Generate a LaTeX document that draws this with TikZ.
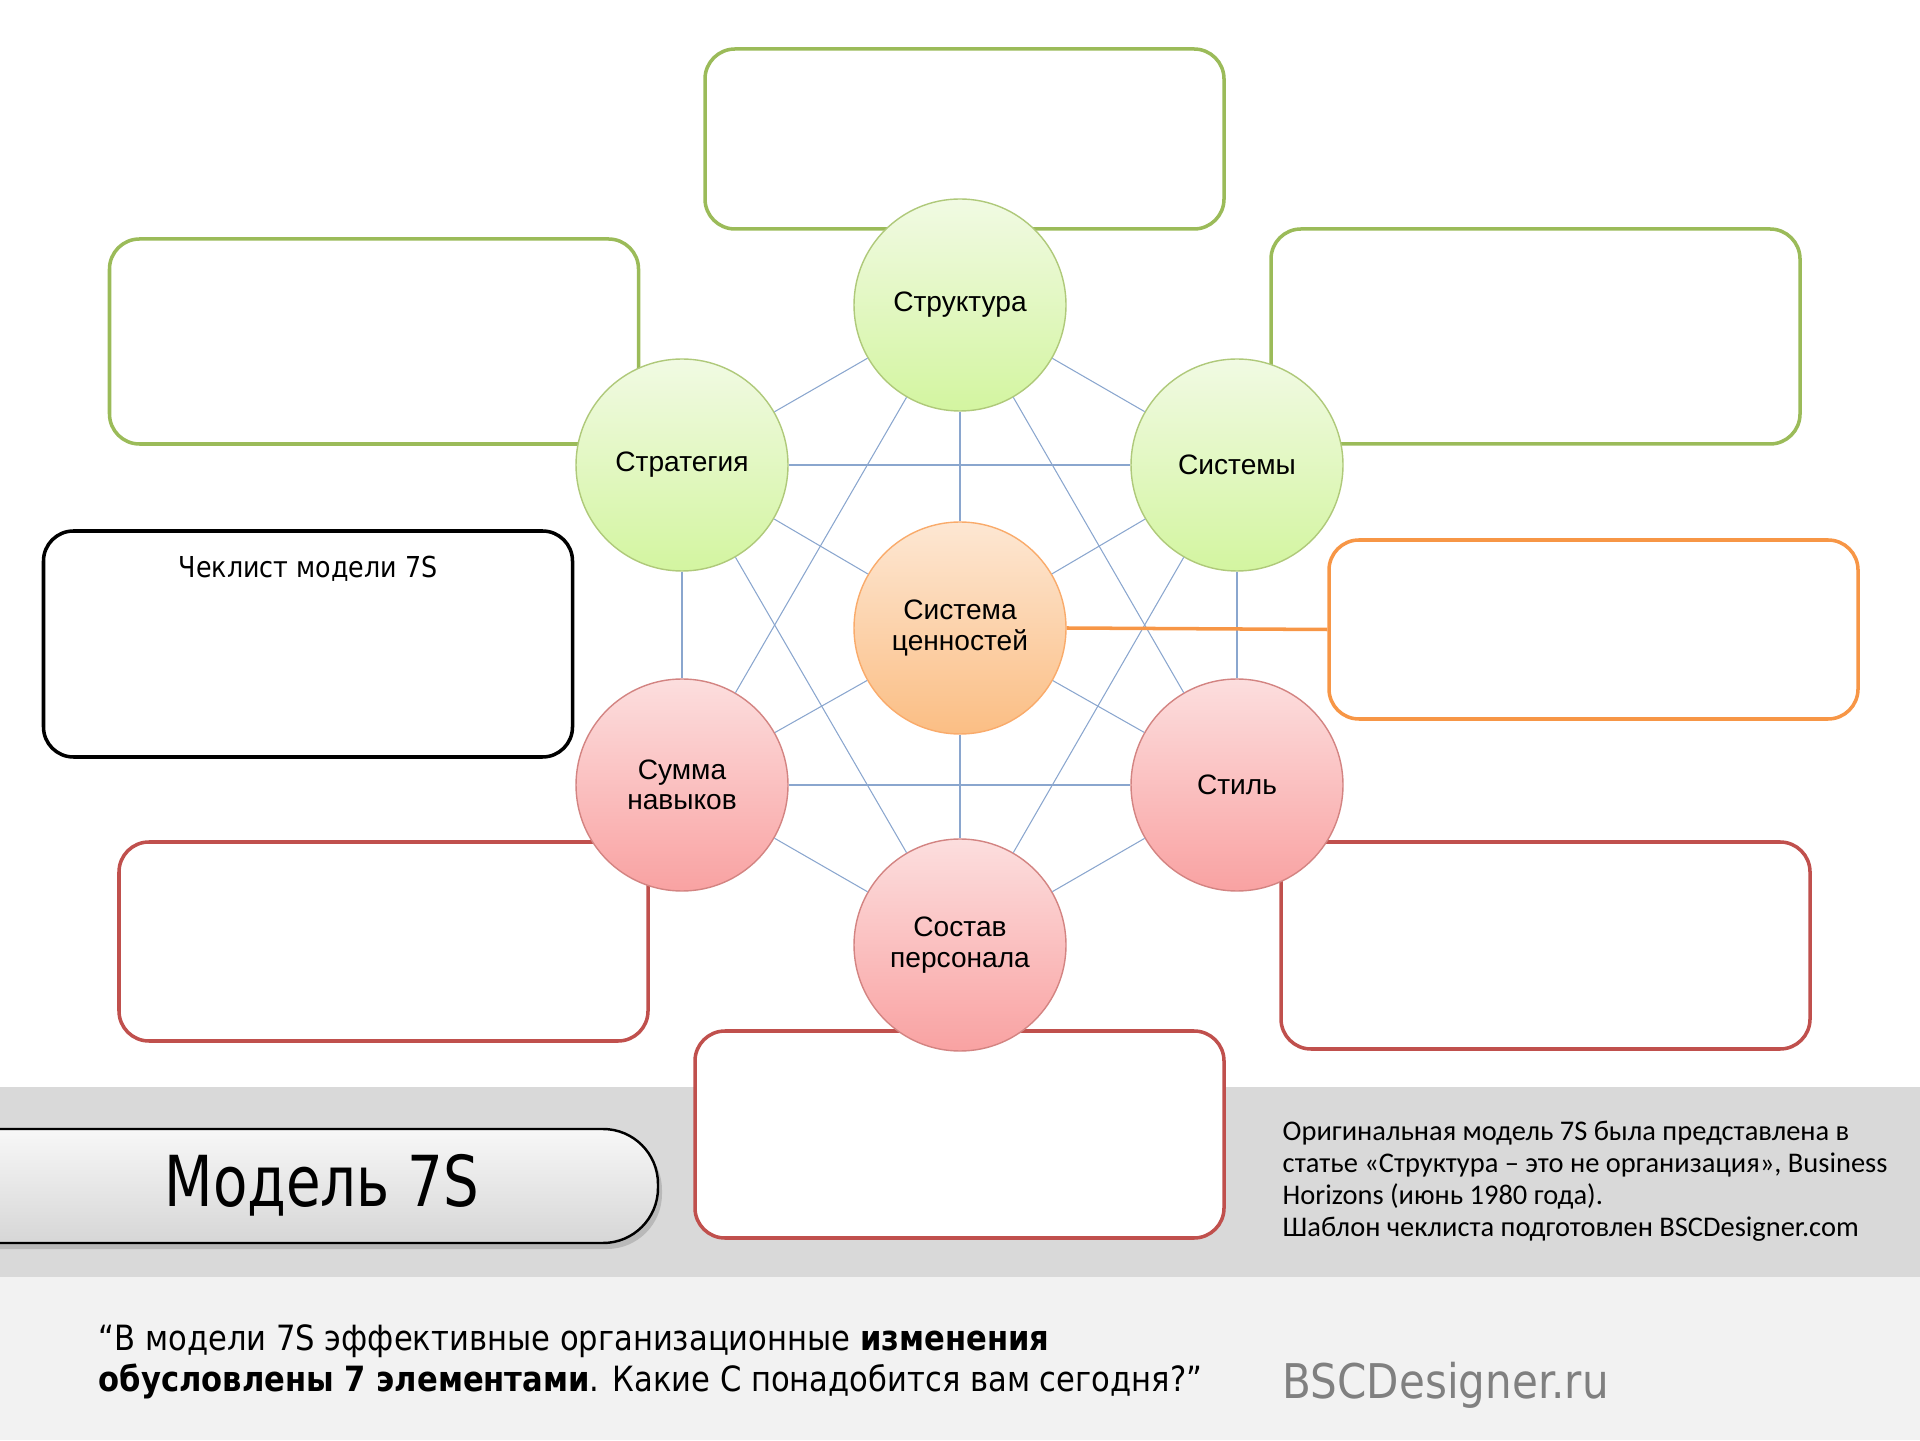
\documentclass[tikz,border=0pt]{standalone}
\usepackage{fontspec}
\setmainfont{Liberation Sans}
\newfontfamily\tahoma[FakeStretch=0.88]{DejaVu Sans}
\newfontfamily\tahomaschmal[FakeStretch=0.8]{DejaVu Sans}
\newfontfamily\calib{Carlito}
\usetikzlibrary{shadows}
\definecolor{gruen}{HTML}{9BBB59}
\definecolor{gruenl}{HTML}{F1FAE3}
\definecolor{gruend}{HTML}{D3F5A0}
\definecolor{rot}{HTML}{C0504D}
\definecolor{rotl}{HTML}{FCDEDE}
\definecolor{rotd}{HTML}{F9A2A2}
\definecolor{orng}{HTML}{F79646}
\definecolor{orngl}{HTML}{FDE7D3}
\definecolor{orngd}{HTML}{FBBE84}
\definecolor{linie}{HTML}{8AA6CE}
\definecolor{band}{HTML}{D9D9D9}
\definecolor{fuss}{HTML}{F2F2F2}
\definecolor{schrift}{HTML}{808080}
\tikzset{
  kreis/.style={circle,minimum size=2.12cm,inner sep=0pt,align=center,line width=0.4pt,font=\fontsize{8}{8.6}\selectfont},
  kreisg/.style={kreis,draw=gruen!80,top color=gruenl,bottom color=gruend},
  kreiso/.style={kreis,draw=orng!80,top color=orngl,bottom color=orngd},
  kreisr/.style={kreis,draw=rot!70,top color=rotl,bottom color=rotd},
  kasten/.style={rectangle,rounded corners=0.3cm,fill=white,line width=1pt,inner sep=0pt,minimum width=5.29cm},
  verb/.style={linie,line width=0.3pt},
  titelband/.style={draw=black,line width=0.7pt,top color=gray!6,bottom color=gray!32,rounded corners=0.55cm,
    drop shadow={opacity=0.35,shadow xshift=0.04cm,shadow yshift=-0.06cm}},
}
\begin{document}
\begin{tikzpicture}
  \useasboundingbox (0,0) rectangle (19.2,14.4);
  \fill[band] (0,1.63) rectangle (19.2,3.53);
  \fill[fuss] (0,0) rectangle (19.2,1.63);
  % kaesten
  \node[kasten,draw=gruen,minimum width=5.19cm,minimum height=1.80cm] (k1) at (9.645,13.01) {};
  \node[kasten,draw=gruen,minimum height=2.05cm] (k2) at (3.74,10.985) {};
  \node[kasten,draw=gruen,minimum height=2.15cm] (k3) at (15.355,11.035) {};
  \node[kasten,draw=black,minimum height=2.26cm] (k4) at (3.08,7.96) {};
  \node[kasten,draw=orng,minimum height=1.79cm] (k5) at (15.935,8.105) {};
  \node[kasten,draw=rot,minimum height=1.99cm] (k6) at (3.835,4.985) {};
  \node[kasten,draw=rot,minimum height=2.07cm] (k7) at (15.455,4.945) {};
  \node[kasten,draw=rot,minimum height=2.07cm] (k8) at (9.595,3.055) {};
  \node[font=\tahoma\fontsize{8.2}{9}\selectfont] (chk) at (3.08,8.71) {Чеклист модели 7S};
  % titel
  \draw[titelband] (-0.6,3.11) rectangle (6.58,1.97);
  \node[font=\tahomaschmal\fontsize{20}{22}\selectfont] (titel) at (3.22,2.55) {Модель 7S};
  % kreise
  \node[kreisg] (struk) at (9.6,11.35) {Структура};
  \node[kreisg] (strat) at (6.82,9.75) {Стратегия};
  \node[kreisg] (sys) at (12.37,9.75) {Системы};
  \node[kreiso] (werte) at (9.6,8.12) {Система\\ценностей};
  \node[kreisr] (kompet) at (6.82,6.55) {Сумма\\навыков};
  \node[kreisr] (stil) at (12.37,6.55) {Стиль};
  \node[kreisr] (pers) at (9.6,4.95) {Состав\\персонала};
  \foreach \a/\b in {struk/strat,struk/sys,struk/werte,struk/kompet,struk/stil,
    strat/sys,strat/werte,strat/kompet,strat/pers,sys/werte,sys/stil,sys/pers,
    werte/kompet,werte/stil,werte/pers,kompet/stil,kompet/pers,stil/pers}
    \draw[verb] (\a) -- (\b);
  \draw[orng,line width=1pt] (werte.east) -- (k5.west);
  % texte unten
  \node[anchor=west,align=left,inner sep=0pt,font=\calib\fontsize{8.1}{9.1}\selectfont] (info) at (12.82,2.585)
    {Оригинальная модель 7S была представлена в\\статье «Структура – это не организация», Business\\Horizons (июнь 1980 года).\\Шаблон чеклиста подготовлен BSCDesigner.com};
  \node[anchor=west,align=left,inner sep=0pt,font=\tahoma\fontsize{9.9}{11.7}\selectfont] (zitat) at (0.98,0.785)
    {“В модели 7S эффективные организационные \textbf{изменения}\\\textbf{обусловлены 7 элементами}. Какие С понадобится вам сегодня?”};
  \node[anchor=west,inner sep=0pt,text=schrift,font=\tahoma\fontsize{13.6}{16}\selectfont] (web) at (12.82,0.55) {BSCDesigner.ru};
\end{tikzpicture}
\end{document}
